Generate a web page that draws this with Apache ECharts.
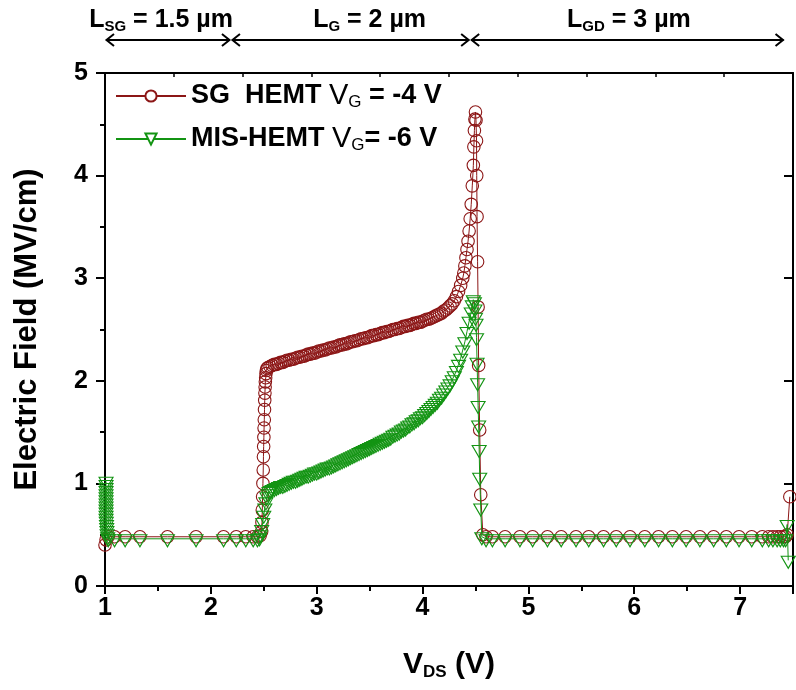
<!DOCTYPE html>
<html><head><meta charset="utf-8">
<script src="https://cdn.jsdelivr.net/npm/echarts@6/dist/echarts.min.js"></script>
<style>html,body{margin:0;padding:0;background:#fff}#c{width:796px;height:690px}</style>
</head><body><div id="c"></div>
<script>
// ---------------- data ----------------
const xTicks = [1, 2, 3, 4, 5, 6, 7];
const yTicks = [0, 1, 2, 3, 4, 5];
const seriesNames = ['SG HEMT', 'MIS-HEMT'];

const sgX = [1.00,1.01,1.03,1.09,1.19,1.33,1.59,1.86,2.12,2.24,2.33,2.40,2.44,2.465,
  2.480,2.483,2.486,2.489,2.492,2.495,2.497,2.499,2.501,2.503,2.505,2.507,2.509,2.511,2.513,2.515,2.518,2.521,2.525,2.53,2.54,
  2.56,2.58,2.60,2.62,2.64,2.66,2.68,2.70,2.72,2.74,2.76,2.78,2.80,2.82,2.84,2.86,2.88,2.90,2.92,2.94,2.96,2.98,
  3.00,3.02,3.04,3.06,3.08,3.10,3.12,3.14,3.16,3.18,3.20,3.22,3.24,3.26,3.28,3.30,3.32,3.34,3.36,3.38,3.40,3.42,3.44,3.46,3.48,
  3.50,3.52,3.54,3.56,3.58,3.60,3.62,3.64,3.66,3.68,3.70,3.72,3.74,3.76,3.78,3.80,3.82,3.84,3.86,3.88,3.90,3.92,3.94,3.96,3.98,
  4.00,4.02,4.04,4.06,4.08,4.10,4.12,4.14,4.16,4.18,4.20,4.22,4.24,4.26,4.28,4.30,
  4.32,4.34,4.36,4.38,4.39,4.40,4.41,4.42,4.43,4.44,4.45,4.46,4.47,4.48,4.485,4.49,4.495,4.50,
  4.505,4.51,4.512,4.515,4.52,4.525,4.53,4.54,4.55,4.57,
  4.60,4.66,4.78,4.92,5.04,5.18,5.31,5.45,5.57,5.71,5.83,5.96,6.10,6.23,6.36,6.49,6.62,6.75,6.87,6.99,7.11,7.21,7.27,7.31,7.35,7.38,7.41,7.43,7.445,7.47];
const sgY = [0.40,0.45,0.48,0.48,0.48,0.48,0.48,0.48,0.48,0.48,0.48,0.48,0.48,0.49,
  0.53,0.62,0.74,0.87,1.00,1.13,1.26,1.36,1.45,1.54,1.62,1.72,1.81,1.88,1.94,1.99,2.03,2.07,2.10,2.12,2.13,
  2.14,2.15,2.16,2.16,2.17,2.18,2.18,2.19,2.20,2.20,2.21,2.21,2.22,2.23,2.23,2.24,2.24,2.25,2.26,2.26,2.27,2.27,
  2.28,2.29,2.29,2.30,2.30,2.31,2.32,2.32,2.33,2.33,2.34,2.35,2.35,2.36,2.36,2.37,2.38,2.38,2.39,2.39,2.40,2.41,2.41,2.42,2.42,
  2.43,2.44,2.44,2.45,2.45,2.46,2.47,2.47,2.48,2.48,2.49,2.50,2.50,2.51,2.51,2.52,2.53,2.53,2.54,2.54,2.55,2.56,2.56,2.57,2.57,
  2.58,2.59,2.60,2.60,2.61,2.62,2.63,2.64,2.65,2.66,2.68,2.69,2.71,2.73,2.75,2.78,
  2.82,2.87,2.93,3.00,3.05,3.12,3.20,3.28,3.36,3.46,3.58,3.72,3.90,4.10,4.28,4.44,4.55,4.62,
  4.54,4.34,4.00,3.60,3.16,2.72,2.15,1.52,0.89,0.50,
  0.48,0.48,0.48,0.48,0.48,0.48,0.48,0.48,0.48,0.48,0.48,0.48,0.48,0.48,0.48,0.48,0.48,0.48,0.48,0.48,0.48,0.48,0.48,0.48,0.48,0.48,0.48,0.48,0.50,0.87];

const misX = [1.010,1.010,1.010,1.010,1.010,1.010,1.010,1.010,1.010,1.010,1.010,1.010,1.010,1.012,1.014,1.016,1.018,1.020,1.025,1.03,
  1.09,1.19,1.33,1.59,1.86,2.12,2.24,2.33,2.40,2.44,
  2.46,2.47,2.48,2.49,2.50,2.51,2.52,2.53,2.54,2.55,2.565,
  2.58,2.60,2.62,2.64,2.66,2.68,2.70,2.72,2.74,2.76,2.78,2.80,2.82,2.84,2.86,2.88,2.90,2.92,2.94,2.96,2.98,
  3.00,3.02,3.04,3.06,3.08,3.10,3.12,3.14,3.16,3.18,3.20,3.22,3.24,3.26,3.28,3.30,3.32,3.34,3.36,3.38,3.40,3.42,3.44,3.46,3.48,
  3.50,3.52,3.54,3.56,3.58,3.60,3.62,3.64,3.66,3.68,3.70,3.72,3.74,3.76,3.78,3.80,3.82,3.84,3.86,3.88,3.90,3.92,3.94,3.96,3.98,
  4.00,4.02,4.04,4.06,4.08,4.10,4.12,4.14,4.16,4.18,4.20,4.22,4.24,4.26,4.28,4.30,
  4.32,4.34,4.36,4.38,4.40,4.42,4.44,4.46,4.47,4.48,
  4.49,4.495,4.50,4.505,4.51,4.515,4.52,4.525,4.53,4.535,4.54,4.55,4.56,
  4.60,4.66,4.78,4.92,5.04,5.18,5.31,5.45,5.57,5.71,5.83,5.96,6.10,6.23,6.36,6.49,6.62,6.75,6.87,6.99,7.11,7.21,7.27,7.31,7.35,7.38,7.41,7.43,7.445,7.455];
const misY = [1.02,0.99,0.96,0.93,0.90,0.87,0.84,0.81,0.78,0.75,0.72,0.69,0.66,0.63,0.60,0.57,0.54,0.51,0.48,0.46,
  0.46,0.46,0.46,0.46,0.46,0.46,0.46,0.46,0.46,0.46,
  0.47,0.50,0.55,0.62,0.69,0.76,0.82,0.87,0.90,0.92,0.93,
  0.94,0.95,0.96,0.97,0.98,0.98,0.99,1.00,1.01,1.02,1.03,1.03,1.04,1.05,1.06,1.07,1.08,1.08,1.09,1.10,1.11,
  1.11,1.12,1.13,1.14,1.15,1.16,1.16,1.17,1.18,1.19,1.20,1.21,1.22,1.23,1.24,1.25,1.26,1.27,1.28,1.29,1.30,1.31,1.32,1.33,1.34,
  1.35,1.36,1.37,1.38,1.39,1.40,1.41,1.42,1.43,1.44,1.45,1.47,1.48,1.49,1.50,1.52,1.53,1.54,1.56,1.57,1.59,1.60,1.62,1.63,1.65,
  1.66,1.68,1.70,1.72,1.74,1.76,1.78,1.80,1.83,1.85,1.88,1.91,1.94,1.97,2.01,2.05,
  2.10,2.16,2.22,2.30,2.38,2.48,2.58,2.67,2.74,2.79,
  2.77,2.70,2.62,2.56,2.42,2.18,1.98,1.76,1.57,1.33,1.06,0.76,0.48,
  0.46,0.46,0.46,0.46,0.46,0.46,0.46,0.46,0.46,0.46,0.46,0.46,0.46,0.46,0.46,0.46,0.46,0.46,0.46,0.46,0.46,0.46,0.46,0.46,0.46,0.46,0.46,0.46,0.60,0.25];

const regionBounds = [1.0, 2.19, 4.45, 7.42];
const regionLabelX = [1.53, 3.50, 5.95];
const regionLabels = [['L', 'SG', ' = 1.5 µm'], ['L', 'G', ' = 2 µm'], ['L', 'GD', ' = 3 µm']];

// ---------------- chart ----------------
const RED = '#8c1616';
const GREEN = '#139413';
const NARROW = '"Liberation Sans Narrow", "Liberation Sans", Arial, sans-serif';
const REG = '"Liberation Sans", Arial, sans-serif';
const zip = (xs, ys) => xs.map((x, i) => [x, ys[i]]);

const chart = echarts.init(document.getElementById('c'), null, {renderer: 'canvas'});
const axisLineStyle = {color: '#000', width: 2};

chart.setOption({
  animation: false,
  backgroundColor: '#fff',
  grid: {left: 105, top: 73, right: -6, bottom: 104, containLabel: false},
  legend: {
    orient: 'vertical', left: 110, top: 67, itemWidth: 70, itemHeight: 14, itemGap: 4,
    data: seriesNames,
    itemStyle: {color: '#fff'},
    formatter: n => n === seriesNames[0]
      ? '{b|SG  HEMT }{v|V}{s|G}{b| = -4 V}'
      : '{b|MIS-HEMT }{v|V}{s|G}{b|= -6 V}',
    textStyle: {
      color: '#000',
      rich: {
        b: {fontFamily: REG, fontWeight: 'bold', fontSize: 27, lineHeight: 30, color: '#000'},
        v: {fontFamily: REG, fontWeight: 'normal', fontSize: 29, lineHeight: 30, color: '#000'},
        s: {fontFamily: REG, fontWeight: 'normal', fontSize: 17, lineHeight: 17, padding: [22, 0, 0, 0], verticalAlign: 'bottom', color: '#000'}
      }
    }
  },
  xAxis: [{
    type: 'value', min: 1, max: 7.5, interval: 1, position: 'bottom',
    axisLine: {show: true, onZero: false, lineStyle: axisLineStyle},
    axisTick: {show: true, inside: false, length: 8, lineStyle: axisLineStyle},
    minorTick: {show: true, splitNumber: 2, length: 5, lineStyle: axisLineStyle},
    splitLine: {show: false},
    axisLabel: {fontFamily: NARROW, fontWeight: 'bold', fontSize: 25, color: '#000', margin: 10,
      formatter: v => xTicks.includes(v) ? String(v) : ''},
    name: '{v|V}{s|DS}{v| (V)}', nameLocation: 'middle', nameGap: 63,
    nameTextStyle: {rich: {
      v: {fontFamily: NARROW, fontWeight: 'bold', fontSize: 30, lineHeight: 32, color: '#000'},
      s: {fontFamily: NARROW, fontWeight: 'bold', fontSize: 17, lineHeight: 17, padding: [22, 0, 0, 0], verticalAlign: 'bottom', color: '#000'}
    }}
  }, {
    type: 'value', min: 0, max: 10, interval: 1, position: 'top',
    axisLine: {show: true, onZero: false, lineStyle: axisLineStyle},
    axisTick: {show: true, inside: true, length: 4, lineStyle: {color: '#000', width: 1.5}},
    axisLabel: {show: false}, splitLine: {show: false}
  }],
  yAxis: [{
    type: 'value', min: 0, max: 5, interval: 1, position: 'left',
    axisLine: {show: true, onZero: false, lineStyle: axisLineStyle},
    axisTick: {show: true, inside: false, length: 9, lineStyle: axisLineStyle},
    minorTick: {show: true, splitNumber: 2, length: 5, lineStyle: axisLineStyle},
    splitLine: {show: false},
    axisLabel: {fontFamily: NARROW, fontWeight: 'bold', fontSize: 25, color: '#000', margin: 17,
      formatter: v => yTicks.includes(v) ? String(v) : ''},
    name: 'Electric Field (MV/cm)', nameLocation: 'middle', nameGap: 62,
    nameTextStyle: {fontFamily: REG, fontWeight: 'bold', fontSize: 31, color: '#000'}
  }, {
    type: 'value', min: 0, max: 5, interval: 1, position: 'right',
    axisLine: {show: true, onZero: false, lineStyle: axisLineStyle},
    axisTick: {show: true, inside: true, length: 9, lineStyle: axisLineStyle},
    minorTick: {show: false},
    axisLabel: {show: false}, splitLine: {show: false}
  }],
  series: [{
    name: seriesNames[0], type: 'line', xAxisIndex: 0, yAxisIndex: 0,
    data: zip(sgX, sgY), symbol: 'circle', symbolSize: 12.5, showSymbol: true, showAllSymbol: true,
    lineStyle: {color: RED, width: 1}, itemStyle: {color: 'rgba(255,255,255,0)', borderColor: RED, borderWidth: 1.1},
    emphasis: {disabled: true}, clip: true, z: 2
  }, {
    name: seriesNames[1], type: 'line', xAxisIndex: 0, yAxisIndex: 0,
    data: zip(misX, misY), symbol: 'triangle', symbolRotate: 180, symbolSize: [14, 12], symbolOffset: [0, 2],
    showSymbol: true, showAllSymbol: true,
    lineStyle: {color: GREEN, width: 1}, itemStyle: {color: 'rgba(255,255,255,0)', borderColor: GREEN, borderWidth: 1.1},
    emphasis: {disabled: true}, clip: true, z: 3
  }]
});

// region annotations placed from data coordinates
const px = v => chart.convertToPixel({xAxisIndex: 0}, v);
const gfx = [];
const ay = 40;
const annRich = {
  l: {fontFamily: NARROW, fontWeight: 'bold', fontSize: 25, lineHeight: 28, fill: '#000'},
  s: {fontFamily: NARROW, fontWeight: 'bold', fontSize: 15, lineHeight: 15, padding: [20, 0, 0, 0], verticalAlign: 'bottom', fill: '#000'}
};
for (let i = 0; i < regionLabels.length; i++) {
  const x0 = px(regionBounds[i]), x1 = px(regionBounds[i + 1]);
  const [a, b, c] = regionLabels[i];
  gfx.push({type: 'text', x: px(regionLabelX[i]), y: 20,
    style: {text: `{l|${a}}{s|${b}}{l|${c}}`, rich: annRich, align: 'center', verticalAlign: 'middle'}});
  gfx.push({type: 'line', shape: {x1: x0 + 1, y1: ay, x2: x1 - 1, y2: ay}, style: {stroke: '#000', lineWidth: 2}});
  gfx.push({type: 'polyline', shape: {points: [[x0 + 9, ay - 6], [x0 + 1.5, ay], [x0 + 9, ay + 6]]}, style: {stroke: '#000', lineWidth: 2, fill: null}});
  gfx.push({type: 'polyline', shape: {points: [[x1 - 9, ay - 6], [x1 - 1.5, ay], [x1 - 9, ay + 6]]}, style: {stroke: '#000', lineWidth: 2, fill: null}});
}
chart.setOption({graphic: gfx});
</script>
</body></html>
